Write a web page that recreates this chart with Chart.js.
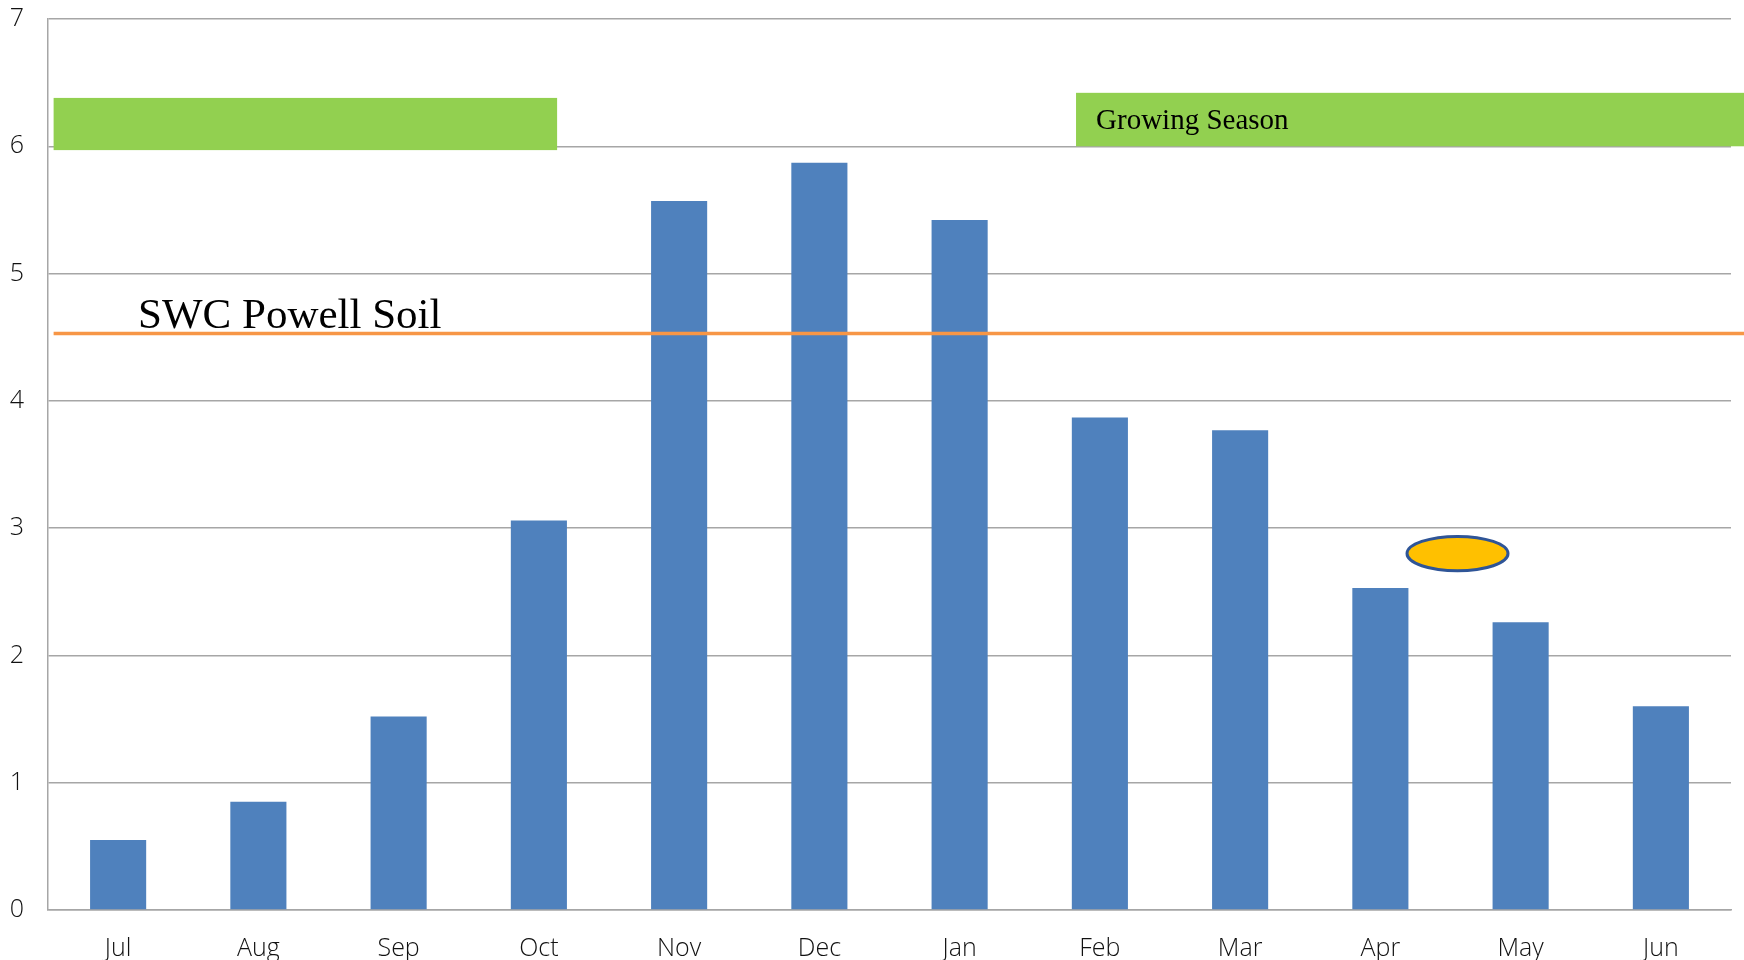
<!DOCTYPE html>
<html>
<head>
<meta charset="utf-8">
<script src="https://cdn.jsdelivr.net/npm/chart.js@4"></script>
<style>
  html, body { margin: 0; padding: 0; background: #fff; }
  canvas { display: block; }
</style>
</head>
<body>
<canvas id="swcChart" width="1744" height="960"></canvas>
<script>
// monthly soil water content
const months = ["Jul", "Aug", "Sep", "Oct", "Nov", "Dec", "Jan", "Feb", "Mar", "Apr", "May", "Jun"];
const swcValues = [0.55, 0.85, 1.52, 3.06, 5.57, 5.87, 5.42, 3.87, 3.77, 2.53, 2.26, 1.60];
const yTicks = [0, 1, 2, 3, 4, 5, 6, 7];

// reference level for Powell soil
const powellSoilSWC = 4.53;
const powellLabel = "SWC Powell Soil";

// growing season bands (x in category index units, y in value units)
const seasonFrom = [-0.46, 6.83];
const seasonTo = [3.13, null];   // null = run to the edge
const seasonLow = [5.97, 6.0];
const seasonHigh = [6.38, 6.42];
const seasonLabels = ["", "Growing Season"];

// highlighted marker between Apr and May
const markerAt = [9.55, 2.8];
const markerSize = [0.72, 0.27];

const overlay = {
  id: "swcOverlay",
  afterDatasetsDraw(chart) {
    const ctx = chart.ctx;
    const x = chart.scales.x;
    const y = chart.scales.y;
    const catW = x.getPixelForValue(1) - x.getPixelForValue(0);
    const unitH = y.getPixelForValue(0) - y.getPixelForValue(1);
    ctx.save();

    // green bands
    for (let i = 0; i < seasonFrom.length; i++) {
      let left = x.getPixelForValue(seasonFrom[i]);
      let right = seasonTo[i] === null ? chart.width : x.getPixelForValue(seasonTo[i]);
      let top = y.getPixelForValue(seasonHigh[i]);
      let bottom = y.getPixelForValue(seasonLow[i]);
      ctx.fillStyle = "#92D050";
      ctx.fillRect(left, top, right - left, bottom - top);
      if (seasonLabels[i]) {
        ctx.fillStyle = "#000";
        ctx.font = "29px 'Liberation Serif', serif";
        ctx.textBaseline = "middle";
        ctx.textAlign = "left";
        ctx.fillText(seasonLabels[i], left + 20, (top + bottom) / 2 + 2);
      }
    }

    // orange reference line
    const lineY = y.getPixelForValue(powellSoilSWC);
    ctx.strokeStyle = "#F79646";
    ctx.lineWidth = 3.5;
    ctx.beginPath();
    ctx.moveTo(x.getPixelForValue(-0.46), lineY);
    ctx.lineTo(chart.width, lineY);
    ctx.stroke();

    ctx.fillStyle = "#000";
    ctx.font = "43px 'Liberation Serif', serif";
    ctx.textBaseline = "alphabetic";
    ctx.textAlign = "left";
    ctx.fillText(powellLabel, x.getPixelForValue(0.142), lineY - 5);

    // yellow ellipse
    const cx = x.getPixelForValue(markerAt[0]);
    const cy = y.getPixelForValue(markerAt[1]);
    ctx.beginPath();
    ctx.ellipse(cx, cy, markerSize[0] * catW / 2, markerSize[1] * unitH / 2, 0, 0, Math.PI * 2);
    ctx.fillStyle = "#FFC000";
    ctx.fill();
    ctx.strokeStyle = "#2F5597";
    ctx.lineWidth = 3;
    ctx.stroke();

    ctx.restore();
  }
};

const tickFont = { family: "'Open Sans', sans-serif", size: 25, weight: "300" };

new Chart(document.getElementById("swcChart"), {
  type: "bar",
  data: {
    labels: months,
    datasets: [{
      data: swcValues,
      backgroundColor: "#4F81BD",
      borderWidth: 0,
      categoryPercentage: 1,
      barPercentage: 0.4
    }]
  },
  options: {
    responsive: false,
    animation: false,
    layout: { padding: { top: 19, right: 13, left: 0, bottom: 0 } },
    plugins: {
      legend: { display: false },
      tooltip: { enabled: false }
    },
    scales: {
      x: {
        grid: { display: false },
        border: { display: true, color: "#A6A6A6", width: 1.5 },
        ticks: { color: "#111", font: tickFont, padding: 16, maxRotation: 0 },
        afterFit(scale) {
          scale.height = 50;
          scale.paddingLeft = 0;
          scale.paddingRight = 0;
        }
      },
      y: {
        min: 0,
        max: 7,
        afterBuildTicks(scale) { scale.ticks = yTicks.map(v => ({ value: v })); },
        grid: { color: "#A6A6A6", lineWidth: 1.5, drawTicks: false },
        border: { display: true, color: "#A6A6A6", width: 1.5 },
        ticks: { color: "#111", font: tickFont, padding: 24 },
        afterFit(scale) {
          scale.width = 48;
          scale.paddingTop = 0;
          scale.paddingBottom = 0;
        }
      }
    }
  },
  plugins: [overlay]
});
</script>
</body>
</html>
